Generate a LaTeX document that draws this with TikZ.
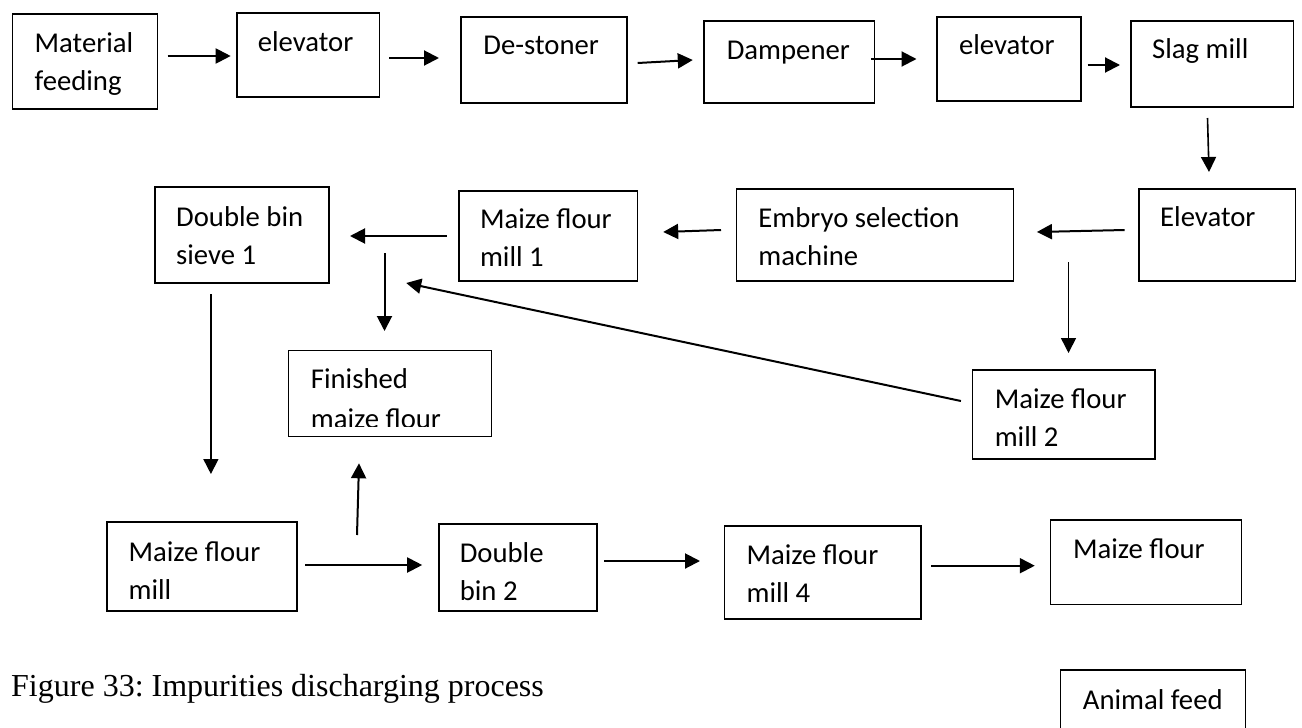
\documentclass[tikz,border=0pt]{standalone}
\usepackage{fontspec}
\setmainfont{Carlito}
\newfontfamily\capfont{Liberation Serif}
\usetikzlibrary{arrows.meta,fit}
\begin{document}
\frenchspacing
\begin{tikzpicture}[x=1bp,y=-1bp,
  box/.style={draw, line width=1.5bp, inner sep=0pt},
  txt/.style={inner sep=0pt, align=left, anchor=base west,
    font=\fontsize{28.7bp}{38bp}\selectfont},
  arr/.style={line width=2bp, -{Triangle[length=15bp,width=15bp]}},
  thinarr/.style={arr, line width=1.6bp}]
\clip (0,0) rectangle (1302,727);
\fill[white] (0,0) rectangle (1302,727);

% ---- boxes ----
\node[box, fit={(12.6,14) (157.4,109)}] (mf) {};
\node[box, fit={(237,13) (379.7,97)}] (el1) {};
\node[box, fit={(461,17) (627,103)}] (ds) {};
\node[box, fit={(704.2,21) (874.3,103)}] (dp) {};
\node[box, fit={(936.8,17) (1081.2,101)}] (el2) {};
\node[box, fit={(1131,21) (1293.6,107)}] (sm) {};
\node[box, fit={(1139,189) (1295.7,281)}] (el3) {};
\node[box, fit={(736.7,189) (1013.6,281)}] (es) {};
\node[box, fit={(458.8,191) (637.7,281)}] (m1) {};
\node[box, fit={(154.9,187) (329.1,283)}] (dbs) {};
\node[box, fit={(288.3,350.7) (491.7,436.7)}] (fin) {};
\node[box, fit={(972.7,370) (1155,459)}] (m2) {};
\node[box, fit={(106.9,522) (297.2,611)}] (mm) {};
\node[box, fit={(439,524) (596.9,611)}] (db2) {};
\node[box, fit={(724.4,526) (921.2,619)}] (m4) {};
\node[box, fit={(1050.4,520) (1241.6,604.3)}] (mfl) {};
\node[box, fit={(1060.7,670) (1245.7,745)}] (af) {};

% ---- texts (anchor = baseline of the last line) ----
\node[txt] (mf-t) at (34.5,90.7) {Material\\feeding};
\node[txt] (el1-t) at (257.6,51.7) {elevator};
\node[txt] (ds-t) at (483.2,54.3) {De-stoner};
\node[txt] (dp-t) at (726.6,60) {Dampener};
\node[txt] (el2-t) at (958.8,54.3) {elevator};
\node[txt] (sm-t) at (1152,58.3) {Slag mill};
\node[txt] (el3-t) at (1160,226.7) {Elevator};
\node[txt] (es-t) at (758.2,265) {Embryo selection\\machine};
\node[txt] (m1-t) at (479.8,266.7) {Maize flour\\mill 1};
\node[txt] (dbs-t) at (176,264) {Double bin\\sieve 1};
\begin{scope}
  \clip (289,351) rectangle (491,426.8);
  \node[txt] (fin-t) at (310.7,428.3) {Finished\\[2bp]maize flour};
\end{scope}
\node[txt] (m2-t) at (994.6,446.7) {Maize flour\\mill 2};
\node[txt] (mm-t) at (128.4,599.3) {Maize flour\\mill};
\node[txt] (db2-t) at (459.6,600.7) {Double\\bin 2};
\node[txt] (m4-t) at (746.4,602.7) {Maize flour\\mill 4};
\node[txt] (mfl-t) at (1072.8,558.3) {Maize flour};
\node[txt] (af-t) at (1082.7,709) {Animal feed};

\node[inner sep=0pt, anchor=base west, font=\capfont\fontsize{32bp}{38bp}\selectfont]
  (cap) at (11,696) {Figure 33: Impurities discharging process};

% ---- arrow end points ----
\coordinate (a1s) at (167.5,56);   \coordinate (a1e) at (230.7,56);
\coordinate (a2s) at (389,58);     \coordinate (a2e) at (439,58);
\coordinate (a3s) at (637.7,63);   \coordinate (a3e) at (692.8,60);
\coordinate (a4s) at (871.4,59);   \coordinate (a4e) at (916.5,59);
\coordinate (a5s) at (1087.5,65);  \coordinate (a5e) at (1120,65);
\coordinate (a6s) at (1207.5,118); \coordinate (a6e) at (1209,172);
\coordinate (a7s) at (1124.7,230); \coordinate (a7e) at (1036.9,232);
\coordinate (a8s) at (721,230);    \coordinate (a8e) at (663.2,232);
\coordinate (a9s) at (446.7,236);  \coordinate (a9e) at (350,236);
\coordinate (a10s) at (384.5,253); \coordinate (a10e) at (384.5,331);
\coordinate (a11s) at (1068.5,262);\coordinate (a11e) at (1068.5,353);
\coordinate (a12s) at (960.9,401); \coordinate (a12e) at (406.2,283);
\coordinate (a13s) at (210.9,294); \coordinate (a13e) at (210.9,474);
\coordinate (a14s) at (357,535);   \coordinate (a14e) at (359,463.3);
\coordinate (a15s) at (305.2,565); \coordinate (a15e) at (422.2,565);
\coordinate (a16s) at (604,561);   \coordinate (a16e) at (700,561);
\coordinate (a17s) at (931.3,565.7);\coordinate (a17e) at (1034.8,565.7);

% ---- arrows ----
\draw[arr] (a1s) -- (a1e);
\draw[arr] (a2s) -- (a2e);
\draw[arr] (a3s) -- (a3e);
\draw[arr] (a4s) -- (a4e);
\draw[arr] (a5s) -- (a5e);
\draw[thinarr] (a6s) -- (a6e);
\draw[arr] (a7s) -- (a7e);
\draw[arr] (a8s) -- (a8e);
\draw[arr] (a9s) -- (a9e);
\draw[arr] (a10s) -- (a10e);
\draw[thinarr] (a11s) -- (a11e);
\draw[arr] (a12s) -- (a12e);
\draw[thinarr] (a13s) -- (a13e);
\draw[arr] (a14s) -- (a14e);
\draw[arr] (a15s) -- (a15e);
\draw[arr] (a16s) -- (a16e);
\draw[arr] (a17s) -- (a17e);
\end{tikzpicture}
\end{document}
